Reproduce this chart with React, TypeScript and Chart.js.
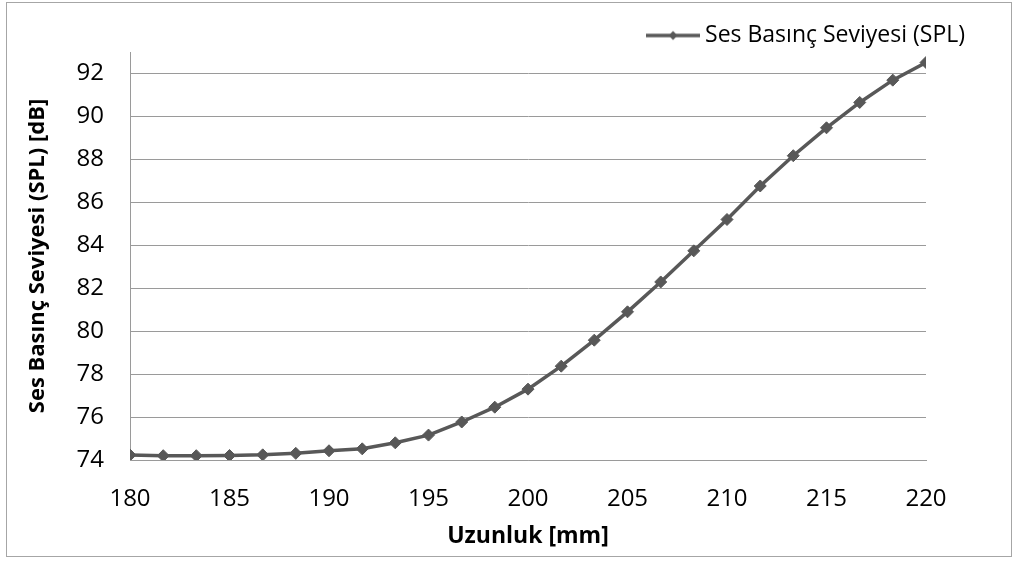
import React, { useEffect, useRef } from "react";
import { Chart, registerables } from "chart.js";

Chart.register(...registerables);

const lengthsMm: number[] = [
  180, 181.67, 183.33, 185, 186.67, 188.33, 190, 191.67, 193.33, 195, 196.67, 198.33,
  200, 201.67, 203.33, 205, 206.67, 208.33, 210, 211.67, 213.33, 215, 216.67, 218.33, 220,
];
const splDb: number[] = [
  74.23, 74.2, 74.2, 74.21, 74.24, 74.31, 74.43, 74.52, 74.8, 75.16, 75.77, 76.46,
  77.3, 78.37, 79.58, 80.9, 82.29, 83.74, 85.2, 86.76, 88.17, 89.47, 90.65, 91.69, 92.51,
];
const seriesName = "Ses Basınç Seviyesi (SPL)";
const xTitle = "Uzunluk [mm]";
const yTitle = "Ses Basınç Seviyesi (SPL) [dB]";
const yTickValues: number[] = [74, 76, 78, 80, 82, 84, 86, 88, 90, 92];

const LINE = "#585858";
const GRID = "#9a9a9a";
const FONT = "'Open Sans', 'Noto Sans', sans-serif";

function makeLegendImage(): HTMLCanvasElement {
  const c = document.createElement("canvas");
  c.width = 54;
  c.height = 14;
  const ctx = c.getContext("2d")!;
  ctx.strokeStyle = LINE;
  ctx.lineWidth = 3.5;
  ctx.beginPath();
  ctx.moveTo(0, 7);
  ctx.lineTo(54, 7);
  ctx.stroke();
  ctx.fillStyle = LINE;
  ctx.beginPath();
  ctx.moveTo(27, 2.5);
  ctx.lineTo(31.5, 7);
  ctx.lineTo(27, 11.5);
  ctx.lineTo(22.5, 7);
  ctx.closePath();
  ctx.fill();
  return c;
}

const borderPlugin = {
  id: "outerBorder",
  beforeDraw(chart: any) {
    const ctx = chart.ctx;
    ctx.save();
    ctx.fillStyle = "#ffffff";
    ctx.fillRect(0, 0, chart.width, chart.height);
    ctx.strokeStyle = "#a6a6a6";
    ctx.lineWidth = 1;
    ctx.strokeRect(6.5, 2.5, 1005, 554);
    ctx.restore();
  },
};

export default function App() {
  const ref = useRef<HTMLCanvasElement | null>(null);

  useEffect(() => {
    document.body.style.margin = "0";
    if (!ref.current) return;
    const data = lengthsMm.map((x, i) => ({ x, y: splDb[i] }));
    const chart = new Chart(ref.current, {
      type: "line",
      data: {
        datasets: [
          {
            label: seriesName,
            data,
            borderColor: LINE,
            backgroundColor: LINE,
            borderWidth: 3.5,
            pointStyle: "rectRot",
            pointRadius: 6,
            pointBackgroundColor: LINE,
            pointBorderColor: LINE,
            pointBorderWidth: 1,
            tension: 0,
            fill: false,
          },
        ],
      },
      options: {
        animation: false,
        responsive: false,
        devicePixelRatio: 1,
        layout: { padding: { left: 0, right: 52, top: 24, bottom: 8 } },
        plugins: {
          legend: {
            display: true,
            position: "top",
            align: "end",
            maxHeight: 28,
            labels: {
              usePointStyle: true,
              pointStyle: makeLegendImage() as any,
              pointStyleWidth: 41,
              padding: 0,
              color: "#000000",
              font: { family: FONT, size: 23 },
            },
          },
          tooltip: { enabled: false },
        },
        scales: {
          x: {
            type: "linear",
            min: 180,
            max: 220,
            ticks: {
              stepSize: 5,
              color: "#000000",
              padding: 25,
              font: { family: FONT, size: 24 },
            },
            grid: { display: false, drawTicks: false },
            border: { display: true, color: GRID, width: 1 },
            title: {
              display: true,
              text: xTitle,
              color: "#000000",
              font: { family: FONT, size: 23, weight: "bold" },
              padding: { top: 0, bottom: 3 },
            },
            afterFit: (s: any) => {
              s.height = 93;
            },
          },
          y: {
            type: "linear",
            min: 74,
            max: 93,
            afterBuildTicks: (s: any) => {
              s.ticks = yTickValues.map((v) => ({ value: v }));
            },
            ticks: {
              color: "#000000",
              padding: 26,
              font: { family: FONT, size: 24 },
            },
            grid: { display: true, color: GRID, lineWidth: 1, drawTicks: false },
            border: { display: true, color: GRID, width: 1 },
            title: {
              display: true,
              text: yTitle,
              color: "#000000",
              font: { family: FONT, size: 22, weight: "bold" },
              padding: { top: 25, bottom: 0 },
            },
            afterFit: (s: any) => {
              s.width = 130;
            },
          },
          yRight: {
            type: "linear",
            position: "right",
            display: true,
            ticks: { display: false },
            grid: { display: false, drawTicks: false },
            border: { display: false },
            afterFit: (s: any) => {
              s.width = 39;
            },
          },
        },
      },
      plugins: [borderPlugin],
    });
    return () => chart.destroy();
  }, []);

  return (
    <div style={{ width: 1017, height: 561 }}>
      <canvas ref={ref} width={1017} height={561} style={{ display: "block" }} />
    </div>
  );
}
